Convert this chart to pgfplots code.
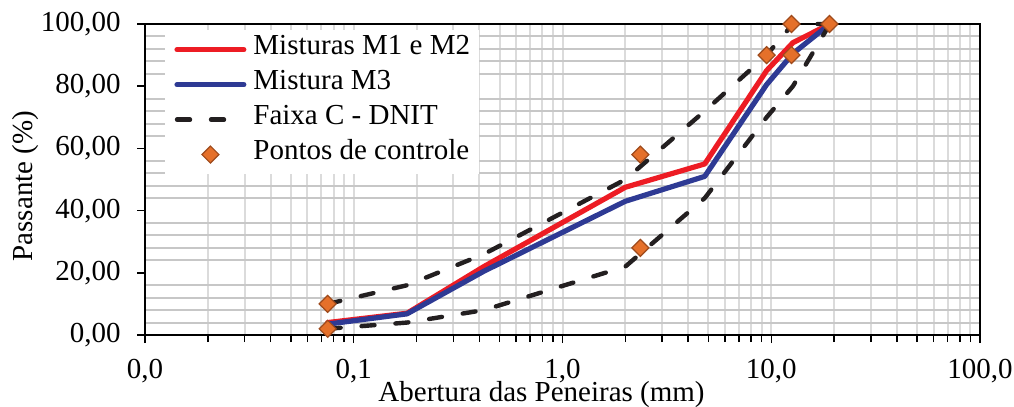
\documentclass[border=0pt]{standalone}
\usepackage{pgfplots}
\pgfplotsset{compat=1.18}
\usepackage{fontspec}
\setmainfont{Liberation Serif}
\setsansfont{Liberation Serif}
\definecolor{mred}{HTML}{ED1C24}
\definecolor{mblue}{HTML}{2E3A94}
\definecolor{mdash}{HTML}{231F20}
\definecolor{morange}{HTML}{E5702A}
\definecolor{mborder}{HTML}{9E4A1C}
\newcommand{\lblfont}{\rmfamily\fontsize{14.5bp}{17bp}\selectfont}
\begin{document}
\begin{tikzpicture}
\begin{axis}[
  scale only axis, width=417.5bp, height=155.5bp,
  xmode=log, xmin=0.01, xmax=100, ymin=0, ymax=100,
  xtick={0.01,0.1,1,10,100},
  xticklabels={{0,0},{0,1},{1,0},{10,0},{100,0}},
  minor xtick={0.02,0.03,0.04,0.05,0.06,0.07,0.08,0.09,
    0.2,0.3,0.4,0.5,0.6,0.7,0.8,0.9,2,3,4,5,6,7,8,9,
    20,30,40,50,60,70,80,90},
  ytick={0,20,...,100},
  minor ytick={4,8,12,16,24,28,32,36,44,48,52,56,64,68,72,76,84,88,92,96},
  tick pos=left, tick align=outside,
  major tick length=4bp, minor tick length=3.5bp,
  major tick style={black, line width=0.75bp},
  minor x tick style={black, line width=0.75bp},
  minor y tick style={draw=none},
  xmajorgrids, xminorgrids, yminorgrids,
  major x grid style={draw=black!14, line width=1bp},
  minor x grid style={draw=black!14, line width=1bp},
  minor y grid style={draw=black!22, line width=1bp},
  axis line style={black, line width=0.75bp},
  tick label style={font=\lblfont},
  xticklabel style={yshift=-4.7bp},
  yticklabel style={xshift=-4.7bp, /pgf/number format/.cd, fixed, fixed zerofill,
    precision=2, use comma, assume math mode=true},
  every axis x label/.style={at={(axis description cs:0.4749,0)}, anchor=base,
    yshift=-33bp, inner sep=0pt, font=\lblfont},
  every axis y label/.style={at={(axis description cs:-0.1593,0.479)}, anchor=north,
    rotate=90, inner sep=0pt, font=\lblfont},
  xlabel={Abertura das Peneiras (mm)},
  ylabel={Passante (\%)},
  legend image code/.code={\draw[mark repeat=2,mark phase=2,#1]
    plot coordinates {(1.3bp,0bp) (18bp,0bp) (34.7bp,0bp)};},
  legend cell align=left,
  legend style={at={(axis description cs:0.024,0.981)}, anchor=north west,
    draw=none, fill=white, inner xsep=4.5bp, inner ysep=5bp, row sep=8bp,
    font=\lblfont, column sep=3.5bp,
    nodes={inner sep=0pt, text height=0.7em, text depth=0.25em}},
  clip=false,
]
\addplot[mred, line width=2.6bp, line cap=round, line join=round] coordinates {
  (0.075,4) (0.18,7) (0.42,22) (2.0,47.5) (4.8,55) (9.5,85) (12.7,94) (19.1,100)};
\addlegendentry{Misturas M1 e M2}
\addplot[mblue, line width=2.6bp, line cap=round, line join=round] coordinates {
  (0.075,3.5) (0.18,6.8) (0.42,20.5) (2.0,43) (4.8,51) (9.5,80.5) (12.7,90.5) (19.1,100)};
\addlegendentry{Mistura M3}
\addplot[mdash, line width=2.2bp, line cap=round, dash pattern=on 6.5bp off 10.5bp] coordinates {
  (0.075,10) (0.18,16) (0.42,26) (2.0,50) (4.8,72) (9.5,90) (12.7,100) (19.1,100)};
\addlegendentry{Faixa C - DNIT}
\addplot[mdash, line width=2.2bp, line cap=round, dash pattern=on 6.5bp off 10.5bp, forget plot] coordinates {
  (0.075,2) (0.18,4) (0.42,8) (2.0,22) (4.8,44) (9.5,70) (12.7,80) (19.1,100)};
\addplot[only marks, mark=square*, mark size=3bp,
  mark options={rotate=45, fill=morange, draw=mborder, line width=0.6bp}] coordinates {
  (0.075,2) (0.075,10) (2.36,28) (2.36,58) (9.5,90) (12.5,90) (12.5,100) (19,100)};
\addlegendentry{Pontos de controle}
\end{axis}
\pgfresetboundingbox
\path[use as bounding box] ([xshift=-72.5bp,yshift=-36bp]current axis.south west)
  rectangle ([xshift=17bp,yshift=12bp]current axis.north east);
\end{tikzpicture}
\end{document}
